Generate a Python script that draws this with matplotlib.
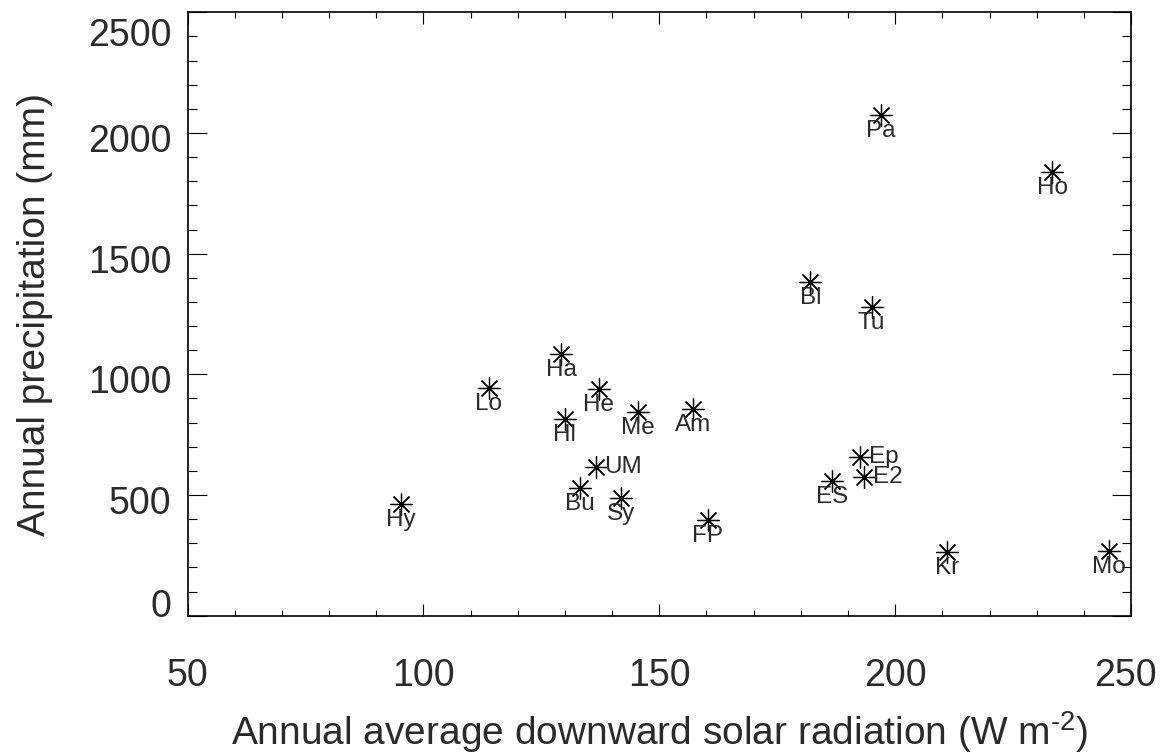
import matplotlib

matplotlib.use("Agg")
import matplotlib.pyplot as plt
from matplotlib.ticker import MultipleLocator

# site codes, annual mean downward solar radiation (W m-2), annual precipitation (mm)
sites = ["Pa", "Ho", "Bl", "Tu", "Ha", "Lo", "He", "Hl", "Me", "Am",
         "UM", "Bu", "Sy", "FP", "Hy", "Ep", "E2", "ES", "Kr", "Mo"]
solar = [197.0, 233.3, 182.0, 195.0, 129.2, 113.9, 137.2, 130.0, 145.4, 157.1,
         136.5, 133.1, 141.8, 160.3, 95.3, 192.6, 193.3, 186.6, 210.9, 245.3]
precip = [2074, 1839, 1381, 1280, 1083, 944, 939, 816, 844, 855,
          616, 530, 489, 395, 463, 659, 576, 558, 263, 269]
# labels drawn to the right of the marker instead of below
right_labels = ["UM", "Ep", "E2"]

xticks = [50, 100, 150, 200, 250]
yticks = [0, 500, 1000, 1500, 2000, 2500]

TXT = "#2a2a2a"

plt.rcParams["font.family"] = ["Liberation Sans", "DejaVu Sans"]
plt.rcParams["mathtext.fontset"] = "custom"
plt.rcParams["mathtext.rm"] = "Liberation Sans"
plt.rcParams["mathtext.it"] = "Liberation Sans"

fig = plt.figure(figsize=(11.64, 7.54), dpi=100)
ax = fig.add_axes([0.1611, 0.1834, 0.8106, 0.8003])

ax.plot(solar, precip, ls="none", marker=(8, 2, 0), ms=16, mew=0.9, color="black")

for name, x, y in zip(sites, solar, precip):
    if name in right_labels:
        ax.annotate(name, (x, y), xytext=(9, 0), textcoords="offset pixels",
                    ha="left", va="center", fontsize=17.5, color=TXT)
    else:
        ax.annotate(name, (x, y), xytext=(0, -5), textcoords="offset pixels",
                    ha="center", va="top", fontsize=17.5, color=TXT)

ax.set_xlim(50, 250)
ax.set_ylim(0, 2500)
ax.set_xticks(xticks)
ax.set_yticks(yticks)
ax.xaxis.set_minor_locator(MultipleLocator(10))
ax.yaxis.set_minor_locator(MultipleLocator(100))

# tick marks on all four sides, pointing in; labels drawn by hand below
ax.tick_params(axis="x", which="major", direction="in", top=True, length=8.6,
               width=0.8, labelbottom=False)
ax.tick_params(axis="x", which="minor", direction="in", top=True, length=4.3, width=0.8)
ax.tick_params(axis="y", which="major", direction="in", right=True, length=13.6,
               width=0.8, labelleft=False)
ax.tick_params(axis="y", which="minor", direction="in", right=True, length=6.8, width=0.8)

for s in ax.spines.values():
    s.set_linewidth(1.2)

# IDL-style tick labels: end labels pulled in toward the plot
for v in xticks:
    dx = -6 if v == xticks[-1] else 0
    ax.annotate(str(v), (v, 0), xycoords=ax.get_xaxis_transform(),
                xytext=(dx, -56), textcoords="offset pixels",
                ha="center", va="center_baseline", fontsize=27, color=TXT)
for v in yticks:
    dy = -5
    if v == yticks[0]:
        dy = 13
    elif v == yticks[-1]:
        dy = -20
    ax.annotate(str(v), (0, v), xycoords=ax.get_yaxis_transform(),
                xytext=(-16, dy), textcoords="offset pixels",
                ha="right", va="center_baseline", fontsize=27, color=TXT)

ax.set_xlabel(r"Annual average downward solar radiation (W m$^{\text{-2}}$)",
              fontsize=28, color=TXT)
ax.set_ylabel("Annual precipitation (mm)", fontsize=28, color=TXT)
ax.xaxis.set_label_coords(0.5, -0.155)
ax.yaxis.set_label_coords(-0.143, 0.5)

fig.savefig("out.png", dpi=100)
